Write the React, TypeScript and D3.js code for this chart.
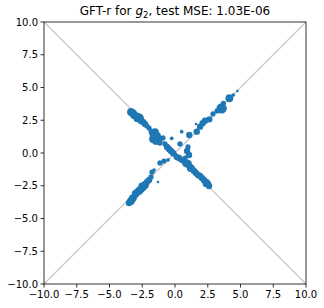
import * as d3 from "d3";

const title = "GFT-r for ";
const titleRest = ", test MSE: 1.03E-06";
const ticks = [-10, -7.5, -5, -2.5, 0, 2.5, 5, 7.5, 10];
const domain = [-10, 10];

// predicted vs. true pairs (anti-diagonal branch, then diagonal branch)
const xs = [
  -3.36, -3.21, -3.13, -2.98, -2.82, -2.9, -2.67, -2.6, -2.44, -2.29, -2.14, -1.98, -1.83,
  -1.68, -1.53, -1.6, -1.37, -1.68, -1.45, -1.22, -1.15, -0.92, -0.76, -0.61, -0.46, -0.31,
  -0.15, 0.0, 0.15, 0.31, 0.46, 0.61, 0.84, 0.99, 1.15, 1.3, 1.45, 1.6, 1.76, 1.91, 2.06,
  2.21, 2.37, 2.52, 2.6, 0.99, 0.92, 1.07, 0.76, -1.4, -1.2, 1.2, 2.4, -2.7,
  -3.51, -3.36, -3.21, -3.05, -2.9, -2.75, -2.6, -2.44, -2.29, -2.14, -1.98, -1.83, -1.76,
  -1.6, -1.3, -1.15, -0.84, -0.53, 0.38, 0.51, 1.09, 1.66, 1.6, 1.91, 2.11, 2.29, 2.62,
  2.9, 3.21, 3.56, 3.69, 4.15, 4.45, 4.76, -0.25, -3.0, -2.5,
];
const ys = [
  3.13, 3.05, 2.9, 2.82, 2.75, 2.6, 2.6, 2.44, 2.37, 2.21, 2.06, 1.91, 1.68, 1.53, 1.6, 1.3,
  1.3, 1.07, 0.92, 1.07, 0.76, 1.15, 0.69, 0.46, 0.31, 0.15, 0.0, -0.15, -0.31, -0.38, -0.53,
  -0.61, -0.76, -0.84, -1.07, -1.22, -1.37, -1.53, -1.68, -1.76, -1.91, -2.06, -2.21, -2.37,
  -2.52, 0.46, 0.15, -0.15, -0.38, 1.2, 0.85, -1.15, -2.3, 2.7,
  -3.82, -3.66, -3.44, -3.21, -2.98, -2.9, -2.75, -2.6, -2.44, -2.21, -2.06, -1.83, -1.45,
  -1.3, -2.21, -0.76, -0.61, -0.53, 0.69, 1.63, 1.37, 1.63, 2.21, 2.01, 2.27, 2.47, 2.57,
  2.98, 3.21, 3.41, 3.79, 4.18, 4.43, 4.73, 1.12, -3.1, -2.55,
];
const sizes = [
  9, 9, 9, 9, 9, 6, 9, 6, 6, 6, 4, 4, 4, 9, 9, 9, 9, 9, 9, 6, 4, 4, 4, 6, 6, 6, 6, 4, 6, 6,
  4, 4, 9, 9, 6, 6, 6, 6, 6, 6, 6, 6, 6, 6, 6, 4, 6, 6, 4, 9, 6, 9, 9, 9,
  6, 9, 9, 6, 6, 9, 9, 9, 9, 6, 6, 4, 4, 2, 1, 4, 4, 2, 4, 2, 6, 6, 1, 6, 6, 6, 6, 4, 4, 16,
  4, 9, 2, 1, 2, 9, 9,
];

export default function App() {
  const width = 324;
  const height = 308;
  const m = { left: 44, right: 18, top: 22, bottom: 24 };
  const x = d3.scaleLinear().domain(domain).range([m.left, width - m.right]);
  const y = d3.scaleLinear().domain(domain).range([height - m.bottom, m.top]);
  const fmt = d3.format(".1f");
  const line = d3
    .line<number>()
    .x((d) => x(d))
    .y((d) => y(d));
  const anti = d3
    .line<number>()
    .x((d) => x(d))
    .y((d) => y(-d));
  const font = "DejaVu Sans, sans-serif";

  return (
    <svg
      width={width}
      height={height}
      style={{ position: "absolute", left: 0, top: 0, background: "white" }}
    >
      <path d={line(domain) ?? ""} stroke="#cccccc" strokeWidth={1.5} fill="none" />
      <path d={anti(domain) ?? ""} stroke="#cccccc" strokeWidth={1.5} fill="none" />
      {xs.map((v, i) => (
        <circle key={i} cx={x(v)} cy={y(ys[i])} r={Math.sqrt(sizes[i]) * 1.3} fill="#1f77b4" />
      ))}
      <rect
        x={x(-10)}
        y={y(10)}
        width={x(10) - x(-10)}
        height={y(-10) - y(10)}
        fill="none"
        stroke="black"
        strokeWidth={0.8}
      />
      {ticks.map((t) => (
        <g key={"x" + t}>
          <line x1={x(t)} x2={x(t)} y1={y(-10)} y2={y(-10) + 3.5} stroke="black" strokeWidth={0.8} />
          <text x={x(t)} y={y(-10) + 14} textAnchor="middle" fontSize={10} fontFamily={font}>
            {fmt(t)}
          </text>
          <line x1={x(-10)} x2={x(-10) - 3.5} y1={y(t)} y2={y(t)} stroke="black" strokeWidth={0.8} />
          <text x={x(-10) - 6} y={y(t) + 3.5} textAnchor="end" fontSize={10} fontFamily={font}>
            {fmt(t)}
          </text>
        </g>
      ))}
      <text x={(x(-10) + x(10)) / 2} y={15} textAnchor="middle" fontSize={12} fontFamily={font}>
        {title}
        <tspan fontStyle="italic">g</tspan>
        <tspan fontSize={8.5} dy={2.5}>2</tspan>
        <tspan dy={-2.5}>{titleRest}</tspan>
      </text>
    </svg>
  );
}
